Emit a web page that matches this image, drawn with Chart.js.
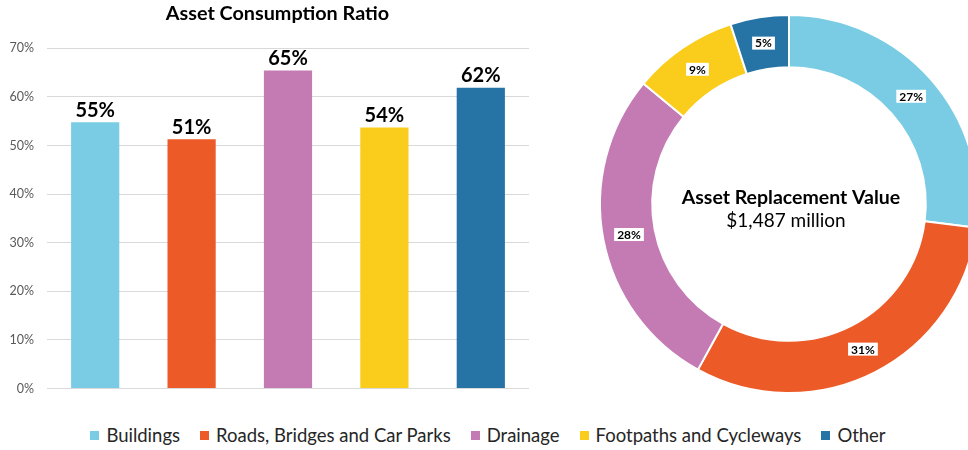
<!DOCTYPE html>
<html>
<head>
<meta charset="utf-8">
<script src="https://cdn.jsdelivr.net/npm/chart.js@4.4.1/dist/chart.umd.min.js"></script>
<style>
  html, body { margin: 0; padding: 0; background: #fff; overflow: hidden; }
  #wrap { position: relative; width: 968px; height: 450px; overflow: hidden; }
  #bars { position: absolute; left: 0; top: 0; }
  #ring { position: absolute; left: 589px; top: 4px; }
  #legend {
    position: absolute; left: 4px; top: 423px; width: 968px; height: 24px;
    display: flex; justify-content: center; align-items: center;
    font-family: Lato, "Noto Sans", sans-serif; font-size: 18.5px; color: #262626;
  }
  #legend .item { display: flex; align-items: center; margin: 0 10px; }
  #legend .box { width: 9px; height: 9px; margin-right: 7px; }
</style>
</head>
<body>
<div id="wrap">
  <canvas id="bars" width="555" height="409"></canvas>
  <canvas id="ring" width="400" height="400"></canvas>
  <div id="legend"></div>
</div>
<script>
const categories = ['Buildings', 'Roads, Bridges and Car Parks', 'Drainage', 'Footpaths and Cycleways', 'Other'];
const consumptionRatio = [54.8, 51.3, 65.4, 53.7, 61.9]; // % per asset class
const replacementShare = [27, 31, 28, 9, 5]; // % of replacement value
const palette = ['#79cce3', '#ec5b27', '#c47bb4', '#facd1c', '#2574a5'];

const barTitle = 'Asset Consumption Ratio';
const ringTitle = 'Asset Replacement Value';
const ringValue = '$1,487 million';

const FONT = 'Lato, "Noto Sans", sans-serif';

// Bold value labels above each bar
const barLabels = {
  id: 'barLabels',
  afterDatasetsDraw(chart) {
    const ctx = chart.ctx;
    const meta = chart.getDatasetMeta(0);
    ctx.save();
    ctx.font = 'bold 20px ' + FONT;
    ctx.fillStyle = '#000';
    ctx.textAlign = 'center';
    ctx.textBaseline = 'bottom';
    meta.data.forEach((bar, i) => {
      ctx.fillText(Math.round(consumptionRatio[i]) + '%', bar.x, bar.y - 2);
    });
    ctx.restore();
  },
};

// Percent boxes on the ring and the text in the middle
const ringLabels = {
  id: 'ringLabels',
  afterDatasetsDraw(chart) {
    const ctx = chart.ctx;
    const meta = chart.getDatasetMeta(0);
    ctx.save();
    ctx.font = 'bold 12px ' + FONT;
    ctx.textAlign = 'center';
    ctx.textBaseline = 'middle';
    meta.data.forEach((arc, i) => {
      const mid = (arc.startAngle + arc.endAngle) / 2;
      const r = (arc.innerRadius + arc.outerRadius) / 2;
      const x = arc.x + Math.cos(mid) * r;
      const y = arc.y + Math.sin(mid) * r;
      const text = replacementShare[i] + '%';
      const w = ctx.measureText(text).width + 6;
      ctx.fillStyle = '#fff';
      ctx.fillRect(x - w / 2, y - 6.5, w, 13);
      ctx.fillStyle = '#000';
      ctx.fillText(text, x, y + 0.5);
    });

    const c = meta.data[0];
    ctx.fillStyle = '#000';
    ctx.textBaseline = 'alphabetic';
    ctx.font = 'bold 19.5px ' + FONT;
    ctx.fillText(ringTitle, c.x + 2, c.y);
    ctx.font = '19px ' + FONT;
    ctx.fillText(ringValue, c.x - 3, c.y + 23);
    ctx.restore();
  },
};

new Chart(document.getElementById('bars'), {
  type: 'bar',
  data: {
    labels: categories,
    datasets: [{
      data: consumptionRatio,
      backgroundColor: palette,
      barPercentage: 0.5,
      categoryPercentage: 1,
    }],
  },
  options: {
    responsive: false,
    animation: false,
    events: [],
    layout: { padding: 0 },
    plugins: {
      legend: { display: false },
      tooltip: { enabled: false },
      title: {
        display: true,
        text: barTitle,
        color: '#000',
        font: { family: FONT, size: 19.8, weight: 'bold' },
        padding: { top: 2, bottom: 22.5 },
      },
    },
    scales: {
      x: { display: false },
      y: {
        min: 0,
        max: 70,
        ticks: {
          stepSize: 10,
          color: '#595959',
          padding: 13,
          font: { family: FONT, size: 12.5 },
          callback: (v) => v + '%',
        },
        grid: { color: '#d9d9d9', drawTicks: false },
        border: { display: false },
        afterFit: (scale) => { scale.width = 47; },
      },
      // empty strip on the right so the title stays centred on the whole panel
      yRight: {
        position: 'right',
        grid: { display: false },
        border: { display: false },
        ticks: { display: false },
        afterFit: (scale) => { scale.width = 26; },
      },
    },
  },
  plugins: [barLabels],
});

new Chart(document.getElementById('ring'), {
  type: 'doughnut',
  data: {
    labels: categories,
    datasets: [{
      data: replacementShare,
      backgroundColor: palette,
      borderColor: '#fff',
      borderWidth: 2,
      hoverOffset: 0,
    }],
  },
  options: {
    responsive: false,
    animation: false,
    events: [],
    radius: 189,
    cutout: 144,
    plugins: {
      legend: { display: false },
      tooltip: { enabled: false },
    },
  },
  plugins: [ringLabels],
});

// shared legend under both charts
const legend = document.getElementById('legend');
categories.forEach((name, i) => {
  const item = document.createElement('div');
  item.className = 'item';
  const box = document.createElement('span');
  box.className = 'box';
  box.style.background = palette[i];
  const label = document.createElement('span');
  label.textContent = name;
  item.appendChild(box);
  item.appendChild(label);
  legend.appendChild(item);
});
</script>
</body>
</html>
